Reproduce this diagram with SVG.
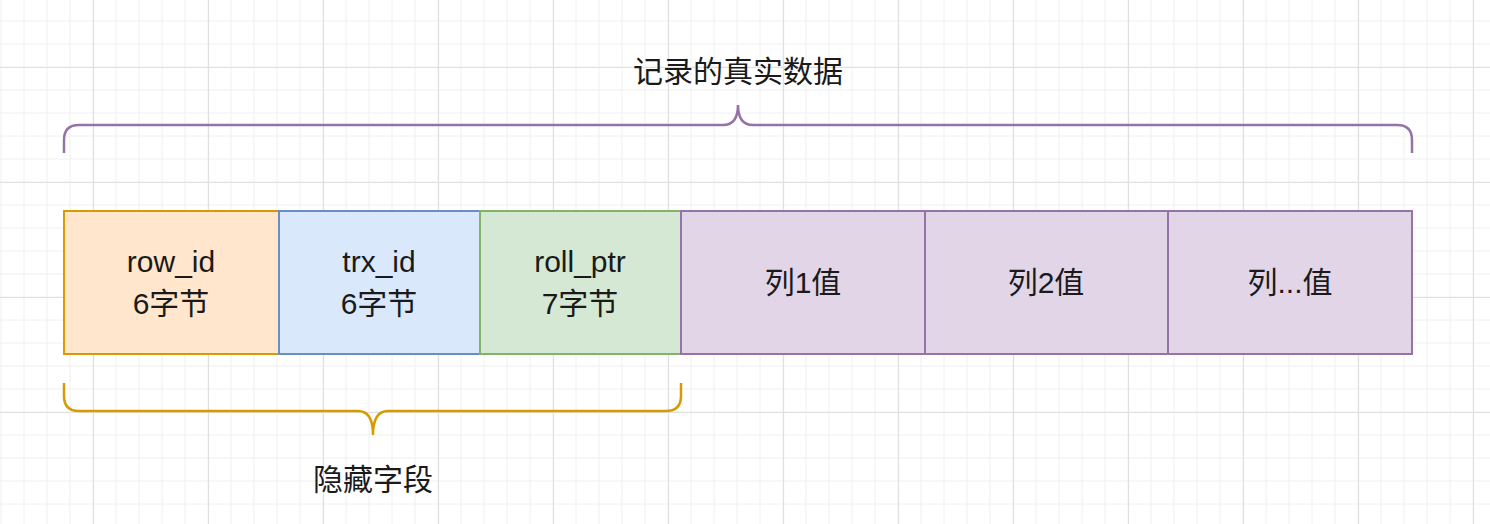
<svg xmlns="http://www.w3.org/2000/svg" width="1490" height="524" viewBox="0 0 1490 524">
<defs>
<pattern id="minor" width="23" height="23" patternUnits="userSpaceOnUse" x="0" y="0">
<path d="M1 0V23M0 21H23" stroke="#f0f0f0" stroke-width="1" fill="none"/>
</pattern>
<pattern id="major" width="115" height="115" patternUnits="userSpaceOnUse" x="93" y="67">
<path d="M0.5 0V115M0 0.5H115" stroke="#e0e0e0" stroke-width="1.2" fill="none"/>
</pattern>
</defs>
<style>
text{font-family:"Liberation Sans","Noto Sans CJK SC",sans-serif;font-size:30px;fill:#1a1a1a;text-anchor:middle}
.lbl{font-size:29px}
</style>
<rect width="1490" height="524" fill="#fff"/>
<rect width="1490" height="524" fill="url(#minor)"/>
<rect width="1490" height="524" fill="url(#major)"/>
<g id="n_row"><rect x="64" y="211" width="215" height="143" fill="#ffe6cc" stroke="#d79b00" stroke-width="2"/><text x="171" y="272">row_id</text><text x="171" y="314">6字节</text></g>
<g id="n_trx"><rect x="279" y="211" width="201" height="143" fill="#dae8fc" stroke="#6c8ebf" stroke-width="2"/><text x="379" y="272">trx_id</text><text x="379" y="314">6字节</text></g>
<g id="n_roll"><rect x="480" y="211" width="201" height="143" fill="#d5e8d4" stroke="#82b366" stroke-width="2"/><text x="580" y="272">roll_ptr</text><text x="580" y="314">7字节</text></g>
<g id="n_c1"><rect x="681" y="211" width="244" height="143" fill="#e1d5e7" stroke="#9673a6" stroke-width="2"/><text x="803" y="293">列1值</text></g>
<g id="n_c2"><rect x="925" y="211" width="243" height="143" fill="#e1d5e7" stroke="#9673a6" stroke-width="2"/><text x="1046" y="293">列2值</text></g>
<g id="n_c3"><rect x="1168" y="211" width="244" height="143" fill="#e1d5e7" stroke="#9673a6" stroke-width="2"/><text x="1290" y="293">列...值</text></g>
<g id="connectors" fill="none" stroke-width="2.5">
<path d="M64 153V140Q64 125 79 125H723Q738 125 738 105Q738 125 753 125H1397Q1412 125 1412 140V153" stroke="#9673a6"/>
<path d="M64 383V396Q64 411 79 411H358Q373 411 373 435Q373 411 388 411H666Q681 411 681 396V383" stroke="#d79b00"/>
</g>
<g id="labels"><text x="738" y="82">记录的真实数据</text><text x="373" y="490">隐藏字段</text></g>
</svg>
